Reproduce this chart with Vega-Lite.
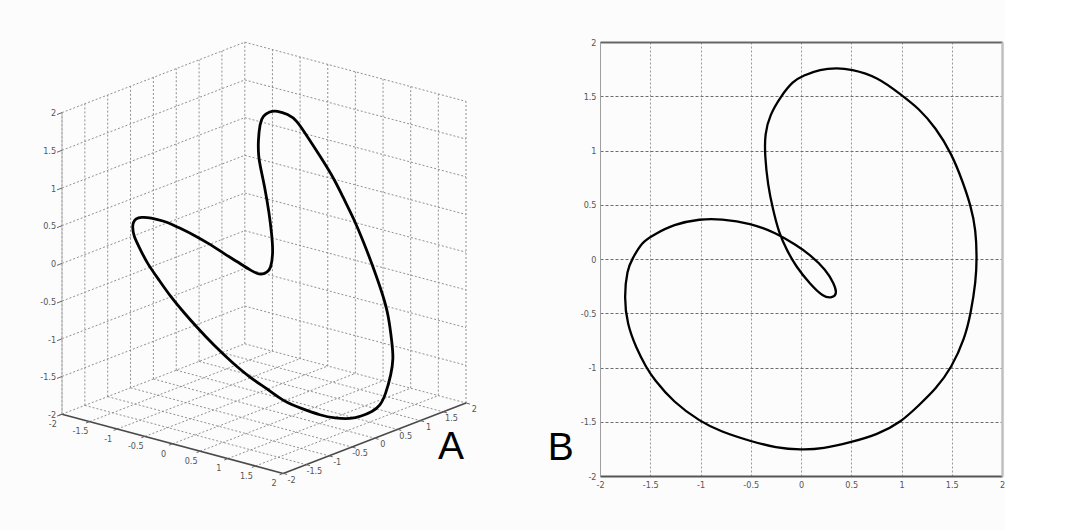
{
  "$schema": "https://vega.github.io/schema/vega-lite/v6.json",
  "background": "#fcfcfd",
  "padding": {"left": 0, "top": 38, "right": 0, "bottom": 0},
  "config": {
    "view": {"stroke": null},
    "axis": {"labelFont": "Liberation Sans Narrow, DejaVu Sans Condensed, sans-serif", "labelFontSize": 9, "labelColor": "#555555"}
  },
  "datasets": {
    "curve": [
      {"i": 1, "x": 0.36, "y": 1.76, "z": -0.16},
      {"i": 2, "x": 0.49, "y": 1.75, "z": -0.36},
      {"i": 3, "x": 0.76, "y": 1.68, "z": -0.73},
      {"i": 4, "x": 1.0, "y": 1.51, "z": -0.9},
      {"i": 5, "x": 1.17, "y": 1.39, "z": -1.24},
      {"i": 6, "x": 1.34, "y": 1.21, "z": -1.36},
      {"i": 7, "x": 1.5, "y": 0.97, "z": -1.47},
      {"i": 8, "x": 1.61, "y": 0.71, "z": -1.67},
      {"i": 9, "x": 1.69, "y": 0.49, "z": -1.75},
      {"i": 10, "x": 1.74, "y": 0.27, "z": -1.76},
      {"i": 11, "x": 1.75, "y": 0.0, "z": -1.76},
      {"i": 12, "x": 1.74, "y": -0.2, "z": -1.75},
      {"i": 13, "x": 1.69, "y": -0.5, "z": -1.68},
      {"i": 14, "x": 1.63, "y": -0.73, "z": -1.6},
      {"i": 15, "x": 1.5, "y": -1.0, "z": -1.47},
      {"i": 16, "x": 1.34, "y": -1.2, "z": -1.36},
      {"i": 17, "x": 1.17, "y": -1.35, "z": -1.19},
      {"i": 18, "x": 1.0, "y": -1.5, "z": -1.05},
      {"i": 19, "x": 0.76, "y": -1.62, "z": -0.86},
      {"i": 20, "x": 0.49, "y": -1.69, "z": -0.67},
      {"i": 21, "x": 0.22, "y": -1.75, "z": -0.46},
      {"i": 22, "x": 0.0, "y": -1.76, "z": -0.31},
      {"i": 23, "x": -0.25, "y": -1.74, "z": -0.16},
      {"i": 24, "x": -0.5, "y": -1.68, "z": -0.01},
      {"i": 25, "x": -0.8, "y": -1.59, "z": 0.14},
      {"i": 26, "x": -1.0, "y": -1.5, "z": 0.27},
      {"i": 27, "x": -1.27, "y": -1.32, "z": 0.35},
      {"i": 28, "x": -1.47, "y": -1.1, "z": 0.38},
      {"i": 29, "x": -1.54, "y": -1.0, "z": 0.4},
      {"i": 30, "x": -1.64, "y": -0.82, "z": 0.39},
      {"i": 31, "x": -1.73, "y": -0.6, "z": 0.34},
      {"i": 32, "x": -1.76, "y": -0.35, "z": 0.27},
      {"i": 33, "x": -1.73, "y": -0.1, "z": 0.17},
      {"i": 34, "x": -1.68, "y": 0.0, "z": 0.12},
      {"i": 35, "x": -1.58, "y": 0.16, "z": 0.02},
      {"i": 36, "x": -1.47, "y": 0.22, "z": -0.03},
      {"i": 37, "x": -1.27, "y": 0.32, "z": -0.13},
      {"i": 38, "x": -1.0, "y": 0.37, "z": -0.24},
      {"i": 39, "x": -0.8, "y": 0.37, "z": -0.29},
      {"i": 40, "x": -0.5, "y": 0.33, "z": -0.35},
      {"i": 41, "x": -0.25, "y": 0.24, "z": -0.34},
      {"i": 42, "x": -0.05, "y": 0.13, "z": -0.23},
      {"i": 43, "x": 0.09, "y": 0.04, "z": -0.14},
      {"i": 44, "x": 0.25, "y": -0.1, "z": 0.14},
      {"i": 45, "x": 0.33, "y": -0.23, "z": 0.43},
      {"i": 46, "x": 0.36, "y": -0.32, "z": 0.73},
      {"i": 47, "x": 0.31, "y": -0.36, "z": 1.09},
      {"i": 48, "x": 0.22, "y": -0.35, "z": 1.34},
      {"i": 49, "x": 0.09, "y": -0.23, "z": 1.42},
      {"i": 50, "x": -0.05, "y": -0.07, "z": 1.55},
      {"i": 51, "x": -0.14, "y": 0.08, "z": 1.74},
      {"i": 52, "x": -0.22, "y": 0.24, "z": 1.78},
      {"i": 53, "x": -0.28, "y": 0.46, "z": 1.78},
      {"i": 54, "x": -0.33, "y": 0.68, "z": 1.73},
      {"i": 55, "x": -0.36, "y": 0.96, "z": 1.61},
      {"i": 56, "x": -0.36, "y": 1.15, "z": 1.49},
      {"i": 57, "x": -0.31, "y": 1.33, "z": 1.23},
      {"i": 58, "x": -0.2, "y": 1.5, "z": 0.93},
      {"i": 59, "x": -0.08, "y": 1.64, "z": 0.64},
      {"i": 60, "x": 0.02, "y": 1.69, "z": 0.43},
      {"i": 61, "x": 0.19, "y": 1.75, "z": 0.13}
    ],
    "grid": [
      {"x1": -2, "y1": -2, "z1": -2, "x2": -2, "y2": 2, "z2": -2},
      {"x1": -2, "y1": -2, "z1": -1.5, "x2": -2, "y2": 2, "z2": -1.5},
      {"x1": -2, "y1": -2, "z1": -1, "x2": -2, "y2": 2, "z2": -1},
      {"x1": -2, "y1": -2, "z1": -0.5, "x2": -2, "y2": 2, "z2": -0.5},
      {"x1": -2, "y1": -2, "z1": 0, "x2": -2, "y2": 2, "z2": 0},
      {"x1": -2, "y1": -2, "z1": 0.5, "x2": -2, "y2": 2, "z2": 0.5},
      {"x1": -2, "y1": -2, "z1": 1, "x2": -2, "y2": 2, "z2": 1},
      {"x1": -2, "y1": -2, "z1": 1.5, "x2": -2, "y2": 2, "z2": 1.5},
      {"x1": -2, "y1": -2, "z1": 2, "x2": -2, "y2": 2, "z2": 2},
      {"x1": -2, "y1": -2, "z1": -2, "x2": -2, "y2": -2, "z2": 2},
      {"x1": -2, "y1": -1.5, "z1": -2, "x2": -2, "y2": -1.5, "z2": 2},
      {"x1": -2, "y1": -1, "z1": -2, "x2": -2, "y2": -1, "z2": 2},
      {"x1": -2, "y1": -0.5, "z1": -2, "x2": -2, "y2": -0.5, "z2": 2},
      {"x1": -2, "y1": 0, "z1": -2, "x2": -2, "y2": 0, "z2": 2},
      {"x1": -2, "y1": 0.5, "z1": -2, "x2": -2, "y2": 0.5, "z2": 2},
      {"x1": -2, "y1": 1, "z1": -2, "x2": -2, "y2": 1, "z2": 2},
      {"x1": -2, "y1": 1.5, "z1": -2, "x2": -2, "y2": 1.5, "z2": 2},
      {"x1": -2, "y1": 2, "z1": -2, "x2": -2, "y2": 2, "z2": 2},
      {"x1": -2, "y1": 2, "z1": -2, "x2": 2, "y2": 2, "z2": -2},
      {"x1": -2, "y1": 2, "z1": -1.5, "x2": 2, "y2": 2, "z2": -1.5},
      {"x1": -2, "y1": 2, "z1": -1, "x2": 2, "y2": 2, "z2": -1},
      {"x1": -2, "y1": 2, "z1": -0.5, "x2": 2, "y2": 2, "z2": -0.5},
      {"x1": -2, "y1": 2, "z1": 0, "x2": 2, "y2": 2, "z2": 0},
      {"x1": -2, "y1": 2, "z1": 0.5, "x2": 2, "y2": 2, "z2": 0.5},
      {"x1": -2, "y1": 2, "z1": 1, "x2": 2, "y2": 2, "z2": 1},
      {"x1": -2, "y1": 2, "z1": 1.5, "x2": 2, "y2": 2, "z2": 1.5},
      {"x1": -2, "y1": 2, "z1": 2, "x2": 2, "y2": 2, "z2": 2},
      {"x1": -1.5, "y1": 2, "z1": -2, "x2": -1.5, "y2": 2, "z2": 2},
      {"x1": -1, "y1": 2, "z1": -2, "x2": -1, "y2": 2, "z2": 2},
      {"x1": -0.5, "y1": 2, "z1": -2, "x2": -0.5, "y2": 2, "z2": 2},
      {"x1": 0, "y1": 2, "z1": -2, "x2": 0, "y2": 2, "z2": 2},
      {"x1": 0.5, "y1": 2, "z1": -2, "x2": 0.5, "y2": 2, "z2": 2},
      {"x1": 1, "y1": 2, "z1": -2, "x2": 1, "y2": 2, "z2": 2},
      {"x1": 1.5, "y1": 2, "z1": -2, "x2": 1.5, "y2": 2, "z2": 2},
      {"x1": 2, "y1": 2, "z1": -2, "x2": 2, "y2": 2, "z2": 2},
      {"x1": -1.5, "y1": -2, "z1": -2, "x2": -1.5, "y2": 2, "z2": -2},
      {"x1": -1, "y1": -2, "z1": -2, "x2": -1, "y2": 2, "z2": -2},
      {"x1": -0.5, "y1": -2, "z1": -2, "x2": -0.5, "y2": 2, "z2": -2},
      {"x1": 0, "y1": -2, "z1": -2, "x2": 0, "y2": 2, "z2": -2},
      {"x1": 0.5, "y1": -2, "z1": -2, "x2": 0.5, "y2": 2, "z2": -2},
      {"x1": 1, "y1": -2, "z1": -2, "x2": 1, "y2": 2, "z2": -2},
      {"x1": 1.5, "y1": -2, "z1": -2, "x2": 1.5, "y2": 2, "z2": -2},
      {"x1": -2, "y1": -1.5, "z1": -2, "x2": 2, "y2": -1.5, "z2": -2},
      {"x1": -2, "y1": -1, "z1": -2, "x2": 2, "y2": -1, "z2": -2},
      {"x1": -2, "y1": -0.5, "z1": -2, "x2": 2, "y2": -0.5, "z2": -2},
      {"x1": -2, "y1": 0, "z1": -2, "x2": 2, "y2": 0, "z2": -2},
      {"x1": -2, "y1": 0.5, "z1": -2, "x2": 2, "y2": 0.5, "z2": -2},
      {"x1": -2, "y1": 1, "z1": -2, "x2": 2, "y2": 1, "z2": -2},
      {"x1": -2, "y1": 1.5, "z1": -2, "x2": 2, "y2": 1.5, "z2": -2}
    ],
    "edges": [
      {"name": "x", "x1": -2, "y1": -2, "z1": -2, "x2": 2, "y2": -2, "z2": -2},
      {"name": "y", "x1": 2, "y1": -2, "z1": -2, "x2": 2, "y2": 2, "z2": -2},
      {"name": "z", "x1": -2, "y1": -2, "z1": -2, "x2": -2, "y2": -2, "z2": 2}
    ],
    "ticks": [
      {"axis": "x", "t": -2}, {"axis": "x", "t": -1.5}, {"axis": "x", "t": -1}, {"axis": "x", "t": -0.5}, {"axis": "x", "t": 0},
      {"axis": "x", "t": 0.5}, {"axis": "x", "t": 1}, {"axis": "x", "t": 1.5}, {"axis": "x", "t": 2},
      {"axis": "y", "t": -2}, {"axis": "y", "t": -1.5}, {"axis": "y", "t": -1}, {"axis": "y", "t": -0.5}, {"axis": "y", "t": 0},
      {"axis": "y", "t": 0.5}, {"axis": "y", "t": 1}, {"axis": "y", "t": 1.5}, {"axis": "y", "t": 2},
      {"axis": "z", "t": -2}, {"axis": "z", "t": -1.5}, {"axis": "z", "t": -1}, {"axis": "z", "t": -0.5}, {"axis": "z", "t": 0},
      {"axis": "z", "t": 0.5}, {"axis": "z", "t": 1}, {"axis": "z", "t": 1.5}, {"axis": "z", "t": 2}
    ]
  },
  "spacing": 40,
  "bounds": "flush",
  "hconcat": [
    {
      "width": 560,
      "height": 488,
      "layer": [
        {
          "data": {"name": "grid"},
          "transform": [
            {"calculate": "55.3*datum.x1 + 45.7*datum.y1", "as": "u1"},
            {"calculate": "75.4*datum.z1 - 14.8*datum.x1 + 17.6*datum.y1", "as": "w1"},
            {"calculate": "55.3*datum.x2 + 45.7*datum.y2", "as": "u2"},
            {"calculate": "75.4*datum.z2 - 14.8*datum.x2 + 17.6*datum.y2", "as": "w2"}
          ],
          "mark": {"type": "rule", "color": "#858585", "strokeWidth": 0.9, "strokeDash": [2, 2]},
          "encoding": {
            "x": {"field": "u1", "type": "quantitative", "scale": {"domain": [-264, 296], "nice": false, "zero": false}, "axis": null},
            "y": {"field": "w1", "type": "quantitative", "scale": {"domain": [-272.2, 215.8], "nice": false, "zero": false}, "axis": null},
            "x2": {"field": "u2"},
            "y2": {"field": "w2"}
          }
        },
        {
          "data": {"name": "edges"},
          "transform": [
            {"filter": "datum.name != 'z'"},
            {"calculate": "55.3*datum.x1 + 45.7*datum.y1", "as": "u1"},
            {"calculate": "75.4*datum.z1 - 14.8*datum.x1 + 17.6*datum.y1", "as": "w1"},
            {"calculate": "55.3*datum.x2 + 45.7*datum.y2", "as": "u2"},
            {"calculate": "75.4*datum.z2 - 14.8*datum.x2 + 17.6*datum.y2", "as": "w2"}
          ],
          "mark": {"type": "rule", "color": "#4a4a4a", "strokeWidth": 1.6},
          "encoding": {
            "x": {"field": "u1", "type": "quantitative", "scale": {"domain": [-264, 296], "nice": false, "zero": false}, "axis": null},
            "y": {"field": "w1", "type": "quantitative", "scale": {"domain": [-272.2, 215.8], "nice": false, "zero": false}, "axis": null},
            "x2": {"field": "u2"},
            "y2": {"field": "w2"}
          }
        },
        {
          "data": {"name": "edges"},
          "transform": [
            {"filter": "datum.name == 'z'"},
            {"calculate": "55.3*datum.x1 + 45.7*datum.y1", "as": "u1"},
            {"calculate": "75.4*datum.z1 - 14.8*datum.x1 + 17.6*datum.y1", "as": "w1"},
            {"calculate": "55.3*datum.x2 + 45.7*datum.y2", "as": "u2"},
            {"calculate": "75.4*datum.z2 - 14.8*datum.x2 + 17.6*datum.y2", "as": "w2"}
          ],
          "mark": {"type": "rule", "color": "#b4b4b4", "strokeWidth": 1},
          "encoding": {
            "x": {"field": "u1", "type": "quantitative", "scale": {"domain": [-264, 296], "nice": false, "zero": false}, "axis": null},
            "y": {"field": "w1", "type": "quantitative", "scale": {"domain": [-272.2, 215.8], "nice": false, "zero": false}, "axis": null},
            "x2": {"field": "u2"},
            "y2": {"field": "w2"}
          }
        },
        {
          "data": {"name": "ticks"},
          "transform": [
            {"calculate": "datum.axis == 'x' ? datum.t : (datum.axis == 'y' ? 2 : -2)", "as": "px"},
            {"calculate": "datum.axis == 'y' ? datum.t : -2", "as": "py"},
            {"calculate": "datum.axis == 'z' ? datum.t : -2", "as": "pz"},
            {"calculate": "datum.px + (datum.axis == 'y' ? 0.07 : 0)", "as": "qx"},
            {"calculate": "datum.py - (datum.axis == 'x' ? 0.08 : (datum.axis == 'z' ? 0.11 : 0))", "as": "qy"},
            {"calculate": "55.3*datum.px + 45.7*datum.py", "as": "u1"},
            {"calculate": "75.4*datum.pz - 14.8*datum.px + 17.6*datum.py", "as": "w1"},
            {"calculate": "55.3*datum.qx + 45.7*datum.qy", "as": "u2"},
            {"calculate": "75.4*datum.pz - 14.8*datum.qx + 17.6*datum.qy", "as": "w2"}
          ],
          "mark": {"type": "rule", "color": "#666666", "strokeWidth": 1},
          "encoding": {
            "x": {"field": "u1", "type": "quantitative", "scale": {"domain": [-264, 296], "nice": false, "zero": false}, "axis": null},
            "y": {"field": "w1", "type": "quantitative", "scale": {"domain": [-272.2, 215.8], "nice": false, "zero": false}, "axis": null},
            "x2": {"field": "u2"},
            "y2": {"field": "w2"}
          }
        },
        {
          "data": {"name": "ticks"},
          "transform": [
            {"filter": "datum.axis == 'z'"},
            {"calculate": "55.3*(-2) + 45.7*(-2.13)", "as": "lu"},
            {"calculate": "75.4*datum.t - 14.8*(-2) + 17.6*(-2.13)", "as": "lw"},
            {"calculate": "'' + datum.t", "as": "lbl"}
          ],
          "mark": {"type": "text", "align": "right", "baseline": "middle", "dy": -1.5, "font": "Liberation Sans Narrow, DejaVu Sans Condensed, sans-serif", "fontSize": 9, "color": "#555555"},
          "encoding": {
            "x": {"field": "lu", "type": "quantitative", "scale": {"domain": [-264, 296], "nice": false, "zero": false}, "axis": null},
            "y": {"field": "lw", "type": "quantitative", "scale": {"domain": [-272.2, 215.8], "nice": false, "zero": false}, "axis": null},
            "text": {"field": "lbl"}
          }
        },
        {
          "data": {"name": "ticks"},
          "transform": [
            {"filter": "datum.axis != 'z'"},
            {"calculate": "datum.axis == 'x' ? datum.t : 2.15", "as": "lx"},
            {"calculate": "datum.axis == 'y' ? datum.t : -2.2", "as": "ly"},
            {"calculate": "datum.axis == 'x' ? -2.03 : -2", "as": "lz"},
            {"calculate": "55.3*datum.lx + 45.7*datum.ly", "as": "lu"},
            {"calculate": "75.4*datum.lz - 14.8*datum.lx + 17.6*datum.ly", "as": "lw"},
            {"calculate": "'' + datum.t", "as": "lbl"}
          ],
          "mark": {"type": "text", "align": "center", "baseline": "top", "font": "Liberation Sans Narrow, DejaVu Sans Condensed, sans-serif", "fontSize": 9, "color": "#555555"},
          "encoding": {
            "x": {"field": "lu", "type": "quantitative", "scale": {"domain": [-264, 296], "nice": false, "zero": false}, "axis": null},
            "y": {"field": "lw", "type": "quantitative", "scale": {"domain": [-272.2, 215.8], "nice": false, "zero": false}, "axis": null},
            "text": {"field": "lbl"}
          }
        },
        {
          "data": {"name": "curve"},
          "transform": [
            {"calculate": "55.3*datum.x + 45.7*datum.y", "as": "u"},
            {"calculate": "75.4*datum.z - 14.8*datum.x + 17.6*datum.y", "as": "w"}
          ],
          "mark": {"type": "line", "color": "#000000", "strokeWidth": 2.8, "interpolate": "basis-closed"},
          "encoding": {
            "x": {"field": "u", "type": "quantitative", "scale": {"domain": [-264, 296], "nice": false, "zero": false}, "axis": null},
            "y": {"field": "w", "type": "quantitative", "scale": {"domain": [-272.2, 215.8], "nice": false, "zero": false}, "axis": null},
            "order": {"field": "i", "type": "quantitative"}
          }
        },
        {
          "data": {"values": [{"label": "A", "u": 174, "w": -201.5}]},
          "mark": {"type": "text", "align": "left", "baseline": "alphabetic", "font": "Liberation Sans, Arial, sans-serif", "fontSize": 39, "color": "#000000"},
          "encoding": {
            "x": {"field": "u", "type": "quantitative", "scale": {"domain": [-264, 296], "nice": false, "zero": false}, "axis": null},
            "y": {"field": "w", "type": "quantitative", "scale": {"domain": [-272.2, 215.8], "nice": false, "zero": false}, "axis": null},
            "text": {"field": "label"}
          }
        }
      ]
    },
    {
      "width": 402,
      "height": 434,
      "layer": [
        {
          "data": {"name": "curve"},
          "mark": {"type": "line", "color": "#000000", "strokeWidth": 2.3, "interpolate": "basis-closed"},
          "encoding": {
            "x": {
              "field": "x", "type": "quantitative",
              "scale": {"domain": [-2, 2], "nice": false, "zero": false},
              "axis": {"orient": "bottom", "title": null, "values": [-2, -1.5, -1, -0.5, 0, 0.5, 1, 1.5, 2], "labelExpr": "'' + datum.value", "labelFlush": false, "labelOverlap": false, "grid": true, "gridColor": "#999999", "gridDash": [2, 2], "gridWidth": 1, "domainColor": "#555555", "domainWidth": 2, "ticks": false, "labelPadding": 4}
            },
            "y": {
              "field": "y", "type": "quantitative",
              "scale": {"domain": [-2, 2], "nice": false, "zero": false},
              "axis": {"orient": "left", "title": null, "values": [-2, -1.5, -1, -0.5, 0, 0.5, 1, 1.5, 2], "labelExpr": "'' + datum.value", "labelFlush": false, "labelOverlap": false, "grid": true, "gridColor": "#6e6e6e", "gridDash": [3, 2], "gridWidth": 1, "domainColor": "#a0a0a0", "domainWidth": 1, "ticks": false, "labelPadding": 4}
            },
            "order": {"field": "i", "type": "quantitative"}
          }
        },
        {
          "data": {"values": [{"label": "B", "x": -2.52, "y": -1.85}]},
          "mark": {"type": "text", "align": "left", "baseline": "alphabetic", "font": "Liberation Sans, Arial, sans-serif", "fontSize": 39, "color": "#000000"},
          "encoding": {
            "x": {
              "field": "x", "type": "quantitative",
              "scale": {"domain": [-2, 2], "nice": false, "zero": false},
              "axis": {"orient": "top", "title": null, "labels": false, "ticks": false, "grid": false, "domainColor": "#666666", "domainWidth": 2}
            },
            "y": {
              "field": "y", "type": "quantitative",
              "scale": {"domain": [-2, 2], "nice": false, "zero": false},
              "axis": {"orient": "right", "title": null, "labels": false, "ticks": false, "grid": false, "domainColor": "#c0c0c0", "domainWidth": 2.5}
            },
            "text": {"field": "label"}
          }
        }
      ],
      "resolve": {"axis": {"x": "independent", "y": "independent"}}
    }
  ]
}
